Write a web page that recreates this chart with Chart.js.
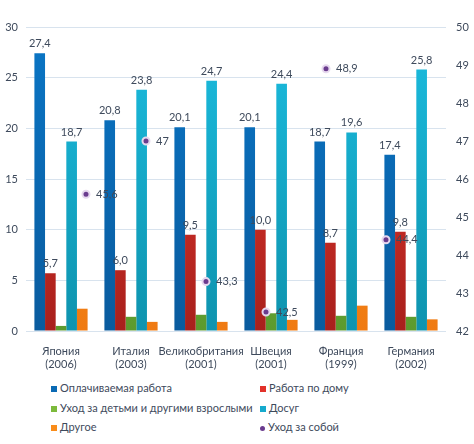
<!DOCTYPE html>
<html><head><meta charset="utf-8">
<script src="https://cdn.jsdelivr.net/npm/chart.js@4.4.0/dist/chart.umd.min.js"></script>
<style>
html,body{margin:0;padding:0;background:#fff;}
#wrap{position:relative;width:474px;height:444px;font-family:Lato,"Noto Sans",sans-serif;}
#c{position:absolute;left:0;top:0;}
.lg{position:absolute;font-size:11px;color:#3e4a5c;white-space:nowrap;line-height:14px;}
.lg i{display:inline-block;width:6px;height:6px;margin-right:3px;vertical-align:0px;}
</style></head>
<body>
<div id="wrap">
<canvas id="c" width="474" height="380"></canvas>
<div id="legend"></div>
</div>
<script>
const countries = ['Япония','Италия','Великобритания','Швеция','Франция','Германия'];
const years = ['(2006)','(2003)','(2001)','(2001)','(1999)','(2002)'];
const paidWork = [27.4, 20.8, 20.1, 20.1, 18.7, 17.4];
const houseWork = [5.7, 6.0, 9.5, 10.0, 8.7, 9.8];
const childCare = [0.5, 1.4, 1.6, 1.75, 1.5, 1.4];
const leisure = [18.7, 23.8, 24.7, 24.4, 19.6, 25.8];
const otherAct = [2.2, 0.9, 0.9, 1.1, 2.5, 1.15];
const selfCare = [45.6, 47, 43.3, 42.5, 48.9, 44.4];
const seriesNames = ['Оплачиваемая работа','Работа по дому','Уход за детьми и другими взрослыми','Досуг','Другое','Уход за собой'];
const leftTicks = [0,5,10,15,20,25,30];
const rightTicks = [42,43,44,45,46,47,48,49,50];

// Only bar datasets should count as separate index axes when grouping bars
const BC = Chart.BarController.prototype;
if (typeof BC._getAxis === 'function') {
  BC._getAxis = function(){
    const axis = {};
    const first = this.getFirstScaleIdForIndexAxis();
    const chart = this.chart;
    for (const ds of chart.data.datasets) {
      if ((ds.type || chart.config.type) !== 'bar') continue;
      const id = chart.options.indexAxis === 'y' ? ds.yAxisID : ds.xAxisID;
      axis[id === undefined ? first : id] = true;
    }
    return Object.keys(axis);
  };
}

function grad(top, bottom){
  return function(ctx){
    const ch = ctx.chart; const a = ch.chartArea;
    if(!a) return top;
    const g = ch.ctx.createLinearGradient(0, a.top, 0, a.bottom);
    g.addColorStop(0, top); g.addColorStop(1, bottom);
    return g;
  };
}
const colors = [
  ['#0a76c6','#0a5b9e'],
  ['#ec3a30','#a8201c'],
  ['#8ecb42','#5c9a2e'],
  ['#1cbde0','#0e93ae'],
  ['#ff9c1e','#ef7a12']
];
const labelled = [true,true,false,true,false];
const barData = [paidWork, houseWork, childCare, leisure, otherAct];

const datasets = barData.map((d,i)=>({
  type:'bar', label:seriesNames[i], data:d,
  backgroundColor: grad(colors[i][0], colors[i][1]),
  barPercentage:1, categoryPercentage:0.76,
  xAxisID:'x', yAxisID:'y', order:2, showLabel: labelled[i]
}));
datasets.push({
  type:'scatter', label:seriesNames[5],
  data: selfCare.map((v,i)=>({x:i+1, y:v})),
  xAxisID:'x2', yAxisID:'y2', order:1,
  pointRadius:3.5, pointBackgroundColor:'#6a3b8e', pointBorderColor:'#e6d8ee', pointBorderWidth:2,
  showLabel:true, selfLabel:true
});

const fmt1 = v => v.toFixed(1).replace('.',',');
const fmtG = v => String(v).replace('.',',');

const labelPlugin = {
  id:'vals',
  afterDatasetsDraw(chart){
    const ctx = chart.ctx;
    ctx.save();
    ctx.font = '11px Lato, "Noto Sans", sans-serif';
    ctx.fillStyle = '#3e4a5c';
    chart.data.datasets.forEach((ds,di)=>{
      if(!ds.showLabel) return;
      const meta = chart.getDatasetMeta(di);
      meta.data.forEach((el,j)=>{
        const v = ds.selfLabel ? ds.data[j].y : ds.data[j];
        if(ds.selfLabel){
          ctx.textAlign='left'; ctx.textBaseline='middle';
          ctx.fillText(fmtG(v), el.x+10, el.y);
        } else {
          ctx.textAlign='center'; ctx.textBaseline='bottom';
          ctx.fillText(fmt1(v), el.x, el.y-4);
        }
      });
    });
    ctx.restore();
  }
};

Chart.defaults.font.family = 'Lato, "Noto Sans", sans-serif';
Chart.defaults.color = '#3e4a5c';

new Chart(document.getElementById('c'), {
  type:'bar',
  data:{ labels: countries.map((c,i)=>[c, years[i]]), datasets },
  options:{
    responsive:false, animation:false,
    layout:{padding:{top:27,left:0,right:0,bottom:0}},
    plugins:{legend:{display:false}, tooltip:{enabled:false}},
    scales:{
      x:{ type:'category', offset:true, grid:{display:false, offset:true}, border:{display:false},
          ticks:{font:{size:11}, padding:6, maxRotation:0, autoSkip:false},
          afterFit(s){ s.height = 49; } },
      x2:{ type:'linear', display:false, min:0, max:7, offset:false, grid:{offset:false} },
      y:{ position:'left', min:0, max:30, afterBuildTicks(s){ s.ticks = leftTicks.map(v=>({value:v})); },
          grid:{color:'#d8e3ee', drawTicks:false}, border:{display:false},
          ticks:{font:{size:11}, padding:8},
          afterFit(s){ s.width = 26; } },
      y2:{ position:'right', min:42, max:50, afterBuildTicks(s){ s.ticks = rightTicks.map(v=>({value:v})); },
          grid:{drawOnChartArea:false, drawTicks:false}, border:{display:false},
          ticks:{font:{size:11}, padding:10},
          afterFit(s){ s.width = 28; } }
    }
  },
  plugins:[labelPlugin]
});

// HTML legend
const lg = document.getElementById('legend');
const legendColors = ['#0a6ab4','#e2312a','#7cba3c','#16aacd','#f98c1a','#6a3b8e'];
const pos = [[51,381],[260,381],[51,401],[260,401],[51,420],[260,420]];
seriesNames.forEach((n,i)=>{
  const d = document.createElement('div');
  d.className='lg';
  d.style.left = pos[i][0]+'px'; d.style.top = pos[i][1]+'px';
  const round = i===5 ? 'border-radius:50%;width:5px;height:5px;' : '';
  d.innerHTML = '<i style="background:'+legendColors[i]+';'+round+'"></i>'+n;
  lg.appendChild(d);
});
</script>
</body></html>
